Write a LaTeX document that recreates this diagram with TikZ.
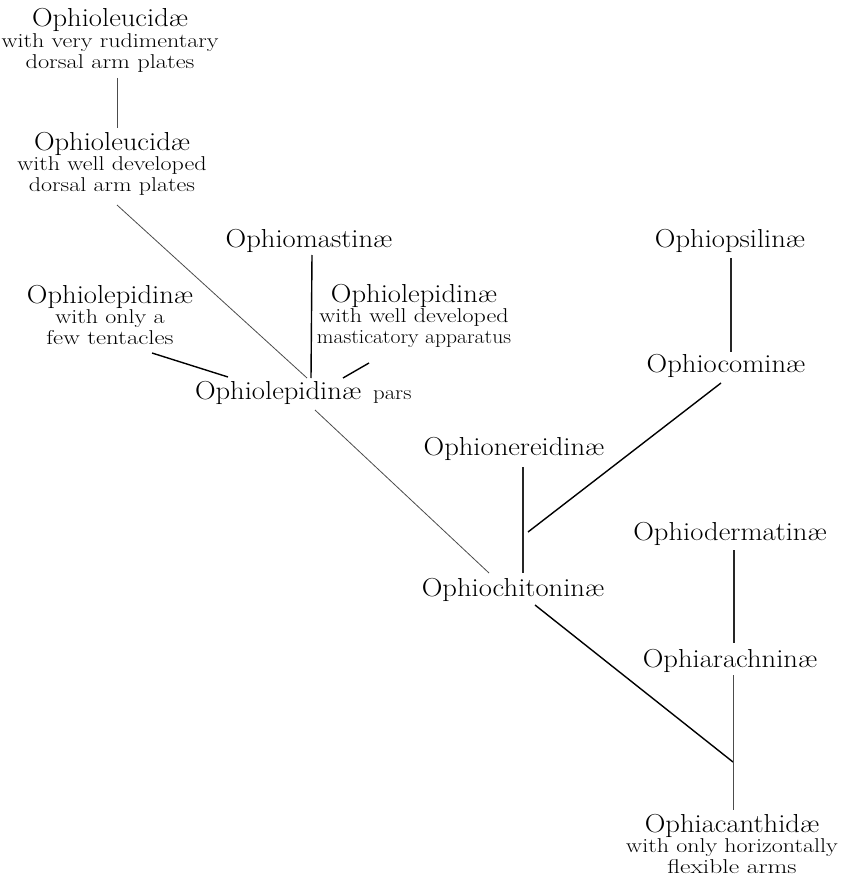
\documentclass[tikz,border=0pt]{standalone}
\usepackage{graphicx}
\usetikzlibrary{calc}
\newcommand{\mn}[1]{{\fontsize{26}{28}\selectfont\scalebox{1.1}[1]{#1}}}
\newcommand{\sbx}[2][1.2]{\scalebox{#1}[1]{#2}}
\newcommand{\blk}[3]{\begin{tabular}[t]{@{}c@{}}\mn{#1}\\#2\\#3\end{tabular}}
\tikzset{
  lab/.style={anchor=base,inner sep=0pt,outer sep=0pt,font=\fontsize{20}{20.6}\selectfont},
  mainlab/.style={anchor=base,inner sep=0pt,outer sep=0pt},
  thickline/.style={line width=1.4pt,black},
  midline/.style={line width=1.1pt,black!85},
  thinline/.style={line width=0.8pt,black!70},
}
\begin{document}
\begin{tikzpicture}[x=1pt,y=-1pt]
\path[use as bounding box,fill=white] (0,0) rectangle (845,880);
% nodes
\node[lab] (leu1) at (110,27) {\blk{Ophioleucid\ae}{\sbx{with very rudimentary}}{\sbx[1.22]{dorsal arm plates}}};
\node[lab] (leu2) at (112,150) {\blk{Ophioleucid\ae}{\sbx{with well developed}}{\sbx{dorsal arm plates}}};
\node[mainlab] (mast) at (309,247) {\mn{Ophiomastin\ae}};
\node[lab] (lepL) at (110,303) {\blk{Ophiolepidin\ae}{\sbx{with only a}}{\sbx[1.24]{few tentacles}}};
\node[lab] (lepR) at (414,302) {\blk{Ophiolepidin\ae}{\sbx{with well developed}}{\sbx[1.08]{masticatory apparatus}}};
\node[lab,anchor=base west] (pars) at (195,399) {\mn{Ophiolepidin\ae}\hspace{12pt}\sbx[1.14]{pars}};
\node[mainlab] (nere) at (514,455) {\mn{Ophionereidin\ae}};
\node[mainlab] (chit) at (513,596) {\mn{Ophiochitonin\ae}};
\node[mainlab] (psil) at (730,247) {\mn{Ophiopsilin\ae}};
\node[mainlab] (comi) at (726,372) {\mn{Ophiocomin\ae}};
\node[mainlab] (derm) at (730,540) {\mn{Ophiodermatin\ae}};
\node[mainlab] (arac) at (730,667) {\mn{Ophiarachnin\ae}};
\node[lab] (acan) at (732,832) {\blk{Ophiacanthid\ae}{\sbx{with only horizontally}}{\sbx[1.28]{flexible arms}}};
% junctions
\coordinate (jc) at ($(chit.base)+(15,-64)$);
\coordinate (jb) at ($(acan.base)+(1,-70)$);
% connectors
\draw[thinline] ($(leu1.base)+(7,51)$) -- ($(leu2.base)+(5,-22)$);
\draw[thinline] ($(leu2.base)+(5,55)$) -- ($(pars.base west)+(112,-21)$);
\draw[thickline] ($(mast.base)+(3,8)$) -- ($(pars.base west)+(116,-21)$);
\draw[thickline] ($(lepL.base)+(42,50)$) -- ($(pars.base west)+(33,-22)$);
\draw[thickline] ($(lepR.base)+(-45,61)$) -- ($(pars.base west)+(148,-21)$);
\draw[thinline] ($(pars.base west)+(120,11)$) -- ($(chit.base)+(-24,-23)$);
\draw[midline] ($(nere.base)+(9,12)$) -- ($(chit.base)+(10,-23)$);
\draw[thickline] ($(comi.base)+(-5,11)$) -- (jc);
\draw[thickline] ($(chit.base)+(22,9)$) -- (jb);
\draw[midline] ($(psil.base)+(1,11)$) -- ($(comi.base)+(5,-20)$);
\draw[midline] ($(derm.base)+(4,10)$) -- ($(arac.base)+(4,-24)$);
\draw[thinline] ($(arac.base)+(3,8)$) -- ($(acan.base)+(1,-22)$);
\end{tikzpicture}
\end{document}
